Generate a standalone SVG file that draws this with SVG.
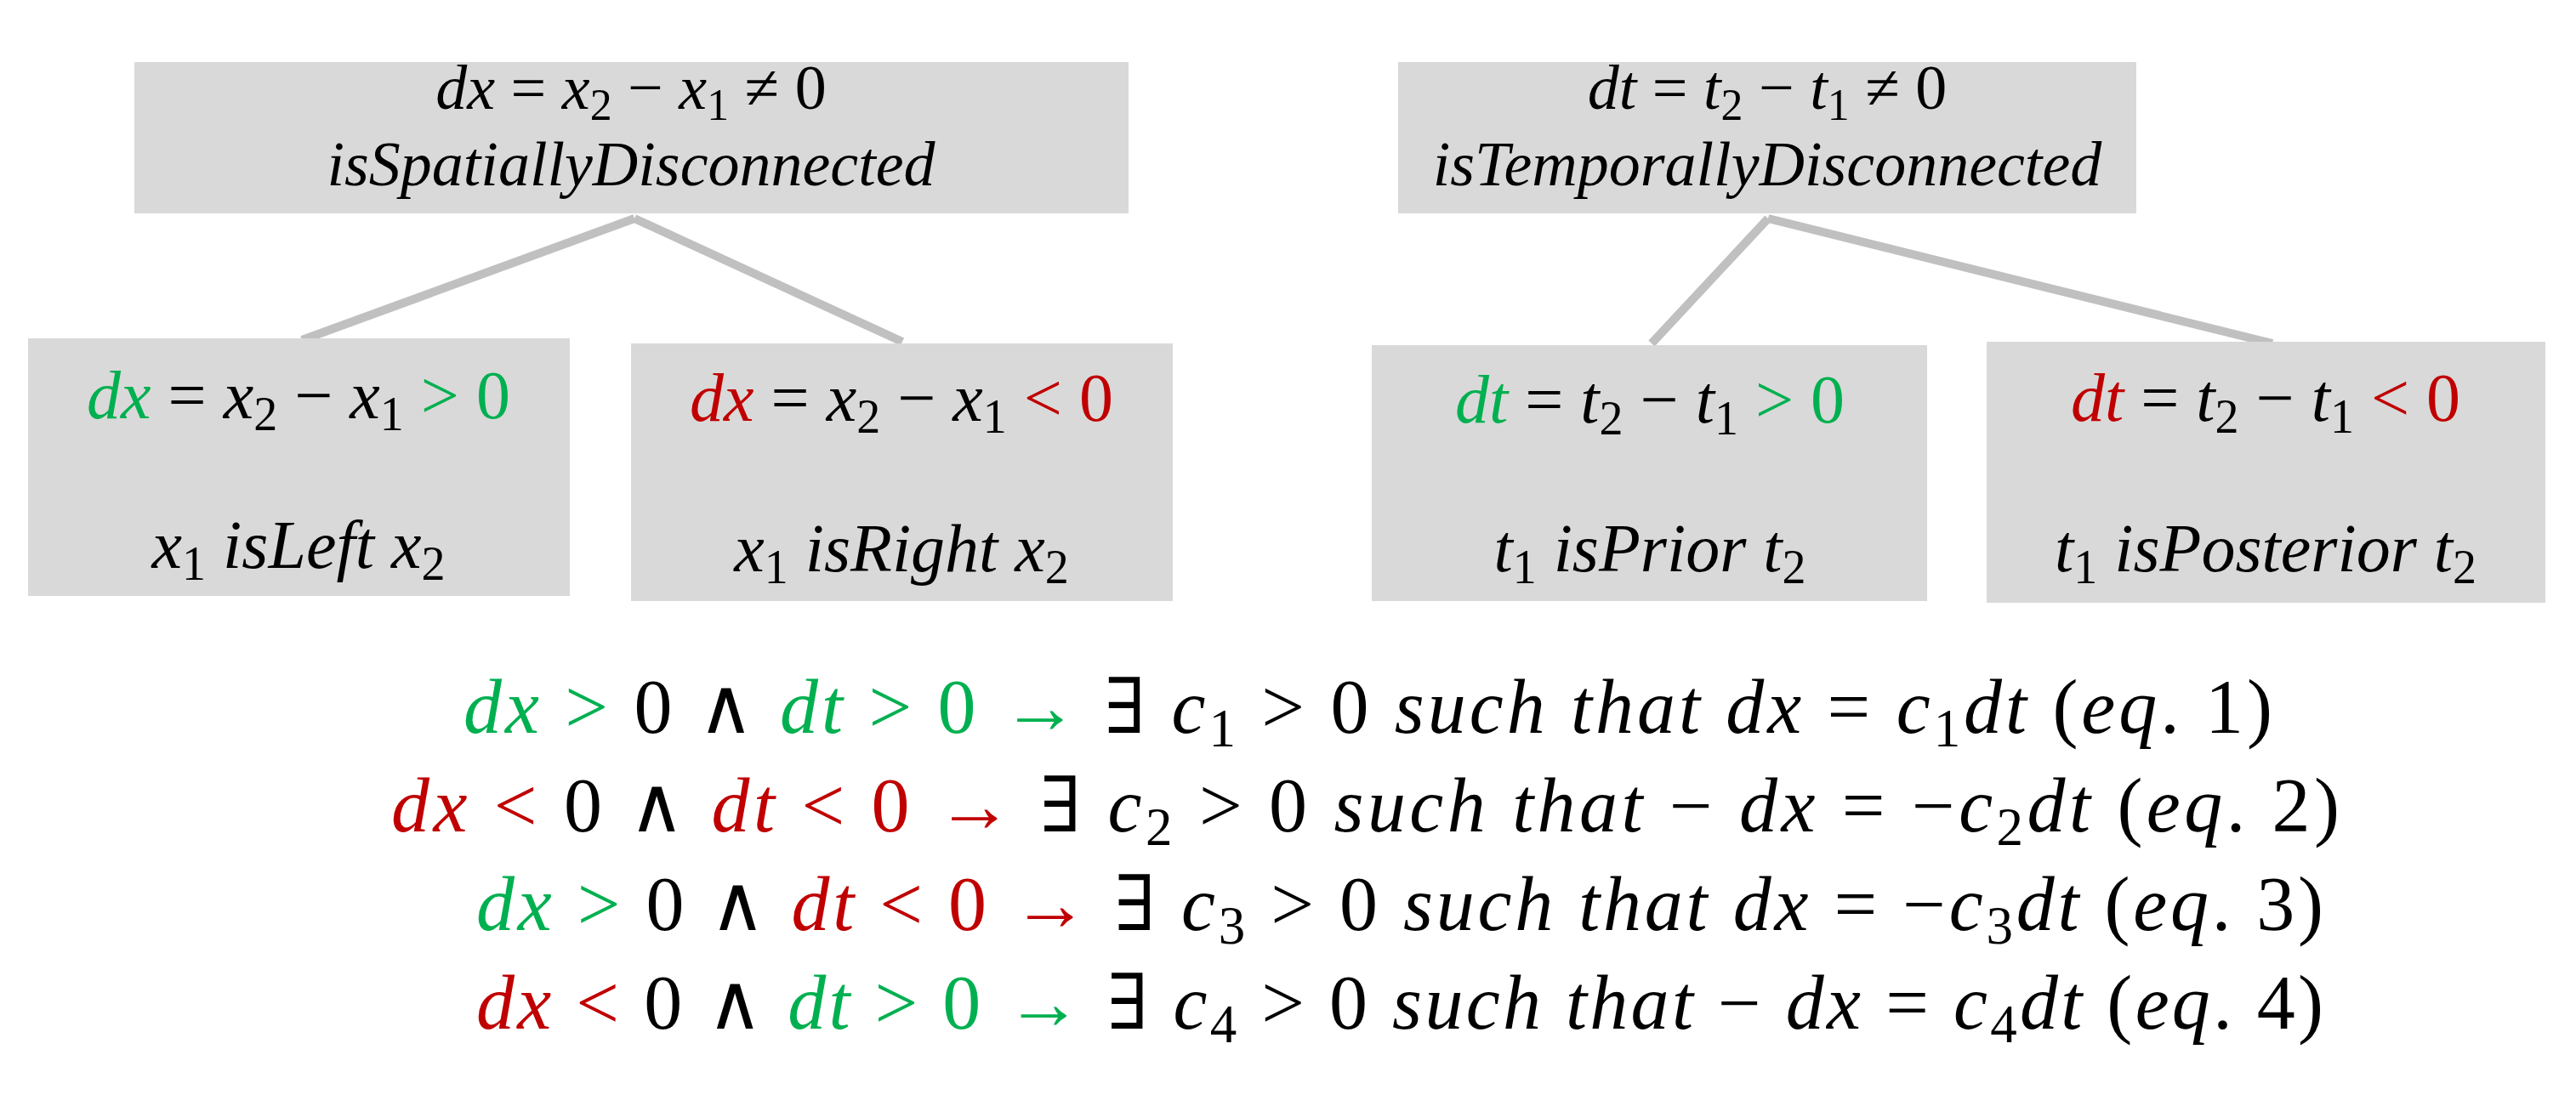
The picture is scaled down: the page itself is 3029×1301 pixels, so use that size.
<svg xmlns="http://www.w3.org/2000/svg" width="3029" height="1301" viewBox="0 0 3029 1301">
<style>
text{font-family:"Liberation Serif","DejaVu Serif",serif;fill:#000}
.m{font-size:80px;text-anchor:middle}
.t{font-size:74px}
.e{font-size:90px}
.i{font-style:italic}
.g{fill:#00b050}
.r{fill:#c00000}
.s{font-size:70%;baseline-shift:-25%}
.box{fill:#d9d9d9}
.ln{stroke:#c0c0c0;stroke-width:10;fill:none}
</style>
<rect width="3029" height="1301" fill="#fff"/>
<g id="connectors">
<path class="ln" d="M746 257 L355 400 M746 257 L1061 402"/>
<path class="ln" d="M2079 257 L1942 404 M2079 257 L2672 404"/>
</g>
<g id="n-spatial">
<rect class="box" x="158" y="73" width="1169" height="178"/>
<text class="m t" x="742" y="128"><tspan class="i">dx</tspan> = <tspan class="i">x</tspan><tspan class="s">2</tspan> − <tspan class="i">x</tspan><tspan class="s">1</tspan> ≠ 0</text>
<text class="m t i" x="742" y="218">isSpatiallyDisconnected</text>
</g>
<g id="n-left">
<rect class="box" x="33" y="398" width="637" height="303"/>
<text class="m" x="351" y="492"><tspan class="i g">dx</tspan> = <tspan class="i">x</tspan><tspan class="s">2</tspan> − <tspan class="i">x</tspan><tspan class="s">1</tspan> <tspan class="g">&gt; 0</tspan></text>
<text class="m" x="351" y="668"><tspan class="i">x</tspan><tspan class="s">1</tspan><tspan class="i"> isLeft x</tspan><tspan class="s">2</tspan></text>
</g>
<g id="n-right">
<rect class="box" x="742" y="404" width="637" height="303"/>
<text class="m" x="1060" y="495"><tspan class="i r">dx</tspan> = <tspan class="i">x</tspan><tspan class="s">2</tspan> − <tspan class="i">x</tspan><tspan class="s">1</tspan> <tspan class="r">&lt; 0</tspan></text>
<text class="m" x="1060" y="672"><tspan class="i">x</tspan><tspan class="s">1</tspan><tspan class="i"> isRight x</tspan><tspan class="s">2</tspan></text>
</g>
<g id="n-temporal">
<rect class="box" x="1644" y="73" width="868" height="178"/>
<text class="m t" x="2078" y="128"><tspan class="i">dt</tspan> = <tspan class="i">t</tspan><tspan class="s">2</tspan> − <tspan class="i">t</tspan><tspan class="s">1</tspan> ≠ 0</text>
<text class="m t i" x="2078" y="218">isTemporallyDisconnected</text>
</g>
<g id="n-prior">
<rect class="box" x="1613" y="406" width="653" height="301"/>
<text class="m" x="1940" y="497"><tspan class="i g">dt</tspan> = <tspan class="i">t</tspan><tspan class="s">2</tspan> − <tspan class="i">t</tspan><tspan class="s">1</tspan> <tspan class="g">&gt; 0</tspan></text>
<text class="m" x="1940" y="672"><tspan class="i">t</tspan><tspan class="s">1</tspan><tspan class="i"> isPrior t</tspan><tspan class="s">2</tspan></text>
</g>
<g id="n-posterior">
<rect class="box" x="2336" y="402" width="657" height="307"/>
<text class="m" x="2664" y="495"><tspan class="i r">dt</tspan> = <tspan class="i">t</tspan><tspan class="s">2</tspan> − <tspan class="i">t</tspan><tspan class="s">1</tspan> <tspan class="r">&lt; 0</tspan></text>
<text class="m" x="2664" y="672"><tspan class="i">t</tspan><tspan class="s">1</tspan><tspan class="i"> isPosterior t</tspan><tspan class="s">2</tspan></text>
</g>
<g id="equations">
<text class="e" x="545" y="862" textLength="2127" lengthAdjust="spacing"><tspan class="i g">dx</tspan><tspan class="g"> &gt; </tspan>0  ∧ <tspan class="i g">dt</tspan><tspan class="g"> &gt; 0 →</tspan> ∃ <tspan class="i">c</tspan><tspan class="s">1</tspan> &gt; 0 <tspan class="i">such that  dx</tspan> = <tspan class="i">c</tspan><tspan class="s">1</tspan><tspan class="i">dt</tspan>  (<tspan class="i">eq</tspan>. 1)</text>
<text class="e" x="460" y="978" textLength="2291" lengthAdjust="spacing"><tspan class="i r">dx</tspan><tspan class="r"> &lt; </tspan>0  ∧ <tspan class="i r">dt</tspan><tspan class="r"> &lt; 0 →</tspan> ∃ <tspan class="i">c</tspan><tspan class="s">2</tspan> &gt; 0 <tspan class="i">such that</tspan>  − <tspan class="i">dx</tspan> = −<tspan class="i">c</tspan><tspan class="s">2</tspan><tspan class="i">dt</tspan>  (<tspan class="i">eq</tspan>. 2)</text>
<text class="e" x="560" y="1094" textLength="2172" lengthAdjust="spacing"><tspan class="i g">dx</tspan><tspan class="g"> &gt; </tspan>0  ∧ <tspan class="i r">dt</tspan><tspan class="r"> &lt; 0 →</tspan> ∃ <tspan class="i">c</tspan><tspan class="s">3</tspan> &gt; 0 <tspan class="i">such that  dx</tspan> = −<tspan class="i">c</tspan><tspan class="s">3</tspan><tspan class="i">dt</tspan> (<tspan class="i">eq</tspan>. 3)</text>
<text class="e" x="560" y="1210" textLength="2172" lengthAdjust="spacing"><tspan class="i r">dx</tspan><tspan class="r"> &lt; </tspan>0  ∧ <tspan class="i g">dt</tspan><tspan class="g"> &gt; 0 →</tspan> ∃ <tspan class="i">c</tspan><tspan class="s">4</tspan> &gt; 0 <tspan class="i">such that</tspan> − <tspan class="i">dx</tspan> = <tspan class="i">c</tspan><tspan class="s">4</tspan><tspan class="i">dt</tspan>  (<tspan class="i">eq</tspan>. 4)</text>
</g>
</svg>
